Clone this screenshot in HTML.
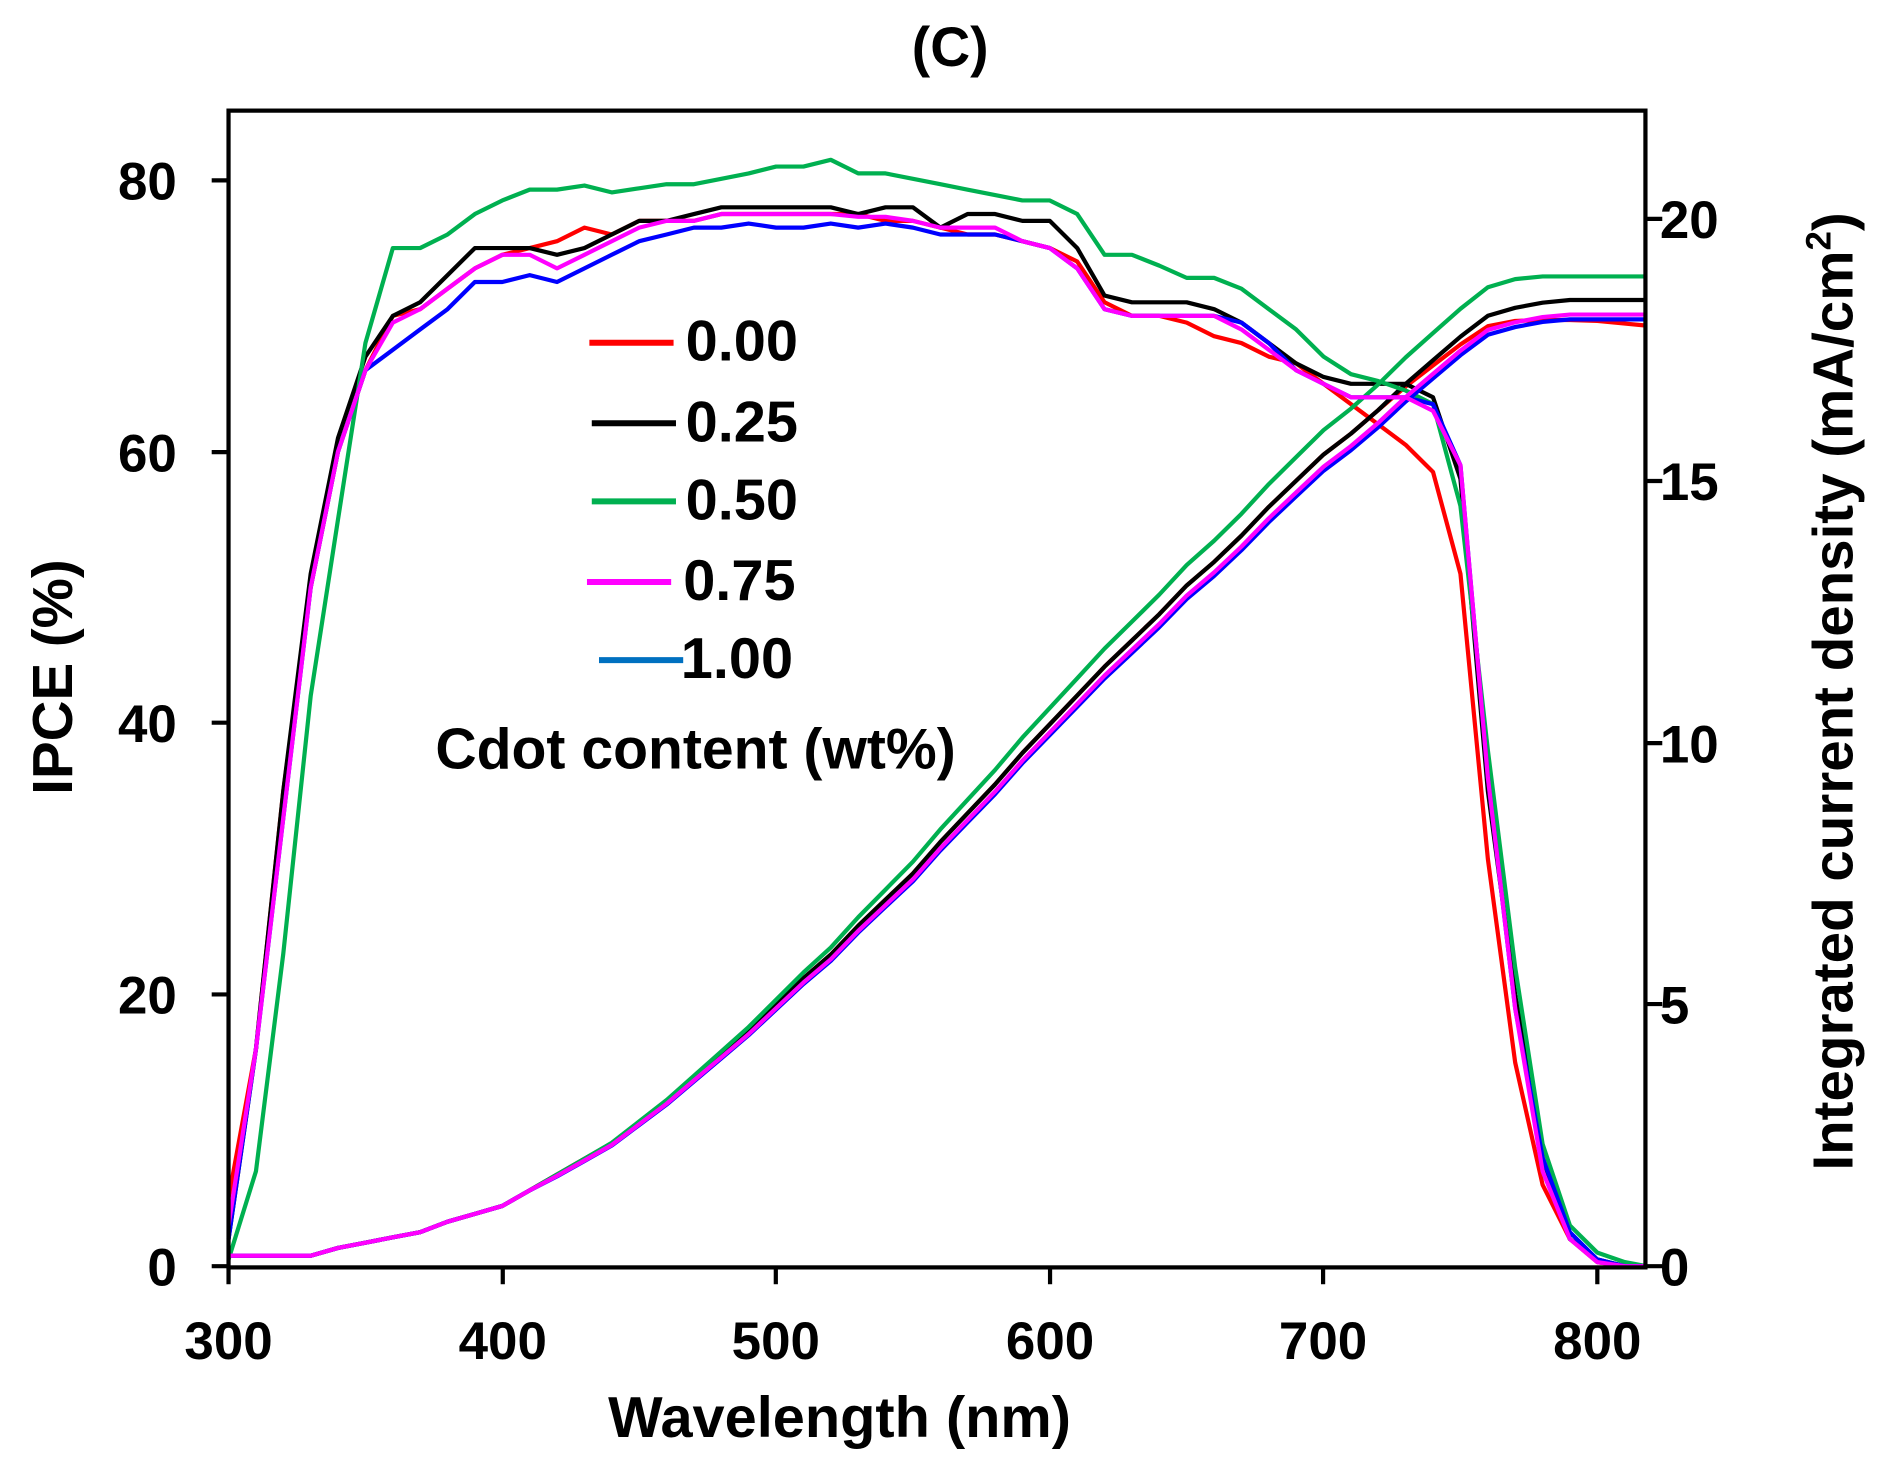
<!DOCTYPE html>
<html><head><meta charset="utf-8"><style>
html,body{margin:0;padding:0;background:#fff;}
svg{display:block;}
text{font-family:"Liberation Sans",Arial,sans-serif;font-weight:bold;fill:#000;}
</style></head><body>
<svg id="s" width="1886" height="1461" viewBox="0 0 1568 1215" preserveAspectRatio="none" xmlns="http://www.w3.org/2000/svg">
<rect width="1568" height="1215" fill="#fff"/>
<text x="790" y="55" font-size="46" text-anchor="middle">(C)</text>
<g id="curves" fill="none" stroke-width="3.5" stroke-linejoin="round"></g>
<rect x="190" y="92" width="1178" height="962" fill="none" stroke="#000" stroke-width="3.5"/>
<g stroke="#000" stroke-width="3.5">
<line x1="176" y1="1053" x2="190" y2="1053"/><line x1="176" y1="827" x2="190" y2="827"/><line x1="176" y1="601" x2="190" y2="601"/><line x1="176" y1="376" x2="190" y2="376"/><line x1="176" y1="150" x2="190" y2="150"/>
<line x1="1368" y1="1053" x2="1382" y2="1053"/><line x1="1368" y1="835" x2="1382" y2="835"/><line x1="1368" y1="618" x2="1382" y2="618"/><line x1="1368" y1="400" x2="1382" y2="400"/><line x1="1368" y1="182" x2="1382" y2="182"/>
<line x1="190" y1="1054" x2="190" y2="1068"/><line x1="418" y1="1054" x2="418" y2="1068"/><line x1="645" y1="1054" x2="645" y2="1068"/><line x1="873" y1="1054" x2="873" y2="1068"/><line x1="1100" y1="1054" x2="1100" y2="1068"/><line x1="1328" y1="1054" x2="1328" y2="1068"/>
</g>
<g font-size="44" text-anchor="end">
<text x="147" y="1069">0</text><text x="147" y="843">20</text><text x="147" y="617">40</text><text x="147" y="392">60</text><text x="147" y="166">80</text>
</g>
<g font-size="44" text-anchor="start">
<text x="1380" y="1069">0</text><text x="1380" y="851">5</text><text x="1380" y="634">10</text><text x="1380" y="416">15</text><text x="1380" y="198">20</text>
</g>
<g font-size="44" text-anchor="middle">
<text x="190" y="1130">300</text><text x="418" y="1130">400</text><text x="645" y="1130">500</text><text x="873" y="1130">600</text><text x="1100" y="1130">700</text><text x="1328" y="1130">800</text>
</g>
<text x="698" y="1195" font-size="48" text-anchor="middle">Wavelength (nm)</text>
<text transform="translate(60,563) rotate(-90)" font-size="47" text-anchor="middle">IPCE (%)</text>
<text transform="translate(1540,575) rotate(-90)" font-size="47" text-anchor="middle">Integrated current density (mA/cm<tspan font-size="29" dy="-18">2</tspan><tspan dy="18">)</tspan></text>
<g stroke-width="5">
<line x1="490" y1="285" x2="560" y2="285" stroke="#ff0000"/>
<line x1="492" y1="352" x2="562" y2="352" stroke="#000"/>
<line x1="492" y1="417" x2="562" y2="417" stroke="#00b050"/>
<line x1="488" y1="484" x2="558" y2="484" stroke="#ff00ff"/>
<line x1="498" y1="549" x2="568" y2="549" stroke="#0070c0"/>
</g>
<g font-size="48">
<text x="570" y="300">0.00</text><text x="570" y="367">0.25</text><text x="570" y="432">0.50</text><text x="568" y="499">0.75</text><text x="566" y="564">1.00</text>
<text x="362" y="639" font-size="47.5">Cdot content (wt%)</text>
</g>
</svg>
<script>
function X(w){return 190+(w-300)*2.276;}
function YL(v){return 1053-v*11.29;}
function YR(v){return 1053-v*43.55;}
var W=[];for(var w=300;w<=810;w+=10)W.push(w);W.push(818);
var ip={
black:[2,16,35,51,61,67,70,71,73,75,75,75,74.5,75,76,77,77,77.5,78,78,78,78,78,77.5,78,78,76.5,77.5,77.5,77,77,75,71.5,71,71,71,70.5,69.5,68,66.5,65.5,65,65,65,64,58,35,20,8,2,0.5,0,0],
red:[5,16,35,50,60,66,70,70.5,72,73.5,74.5,75,75.5,76.5,76,77,77,77,77.5,77.5,77.5,77.5,77.5,77.5,77,77,76.5,76,76,75.5,75,74,71,70,70,69.5,68.5,68,67,66.5,65,63.5,62,60.5,58.5,51,30,15,6,2,0.3,0,0],
green:[0.5,7,23,42,55,68,75,75,76,77.5,78.5,79.3,79.3,79.6,79.1,79.4,79.7,79.7,80.1,80.5,81,81,81.5,80.5,80.5,80.1,79.7,79.3,78.9,78.5,78.5,77.5,74.5,74.5,73.7,72.8,72.8,72,70.5,69,67,65.7,65.2,64.5,63.5,56,38,22,9,3,1,0.3,0],
magenta:[3,16,33,50,60,66,69.5,70.5,72,73.5,74.5,74.5,73.5,74.5,75.5,76.5,77,77,77.5,77.5,77.5,77.5,77.5,77.3,77.3,77,76.5,76.5,76.5,75.5,75,73.5,70.5,70,70,70,70,69,67.5,66,65,64,64,64,63,59,36,19,7,2,0.3,0,0],
blue:[2,16,33,50,60,66,67.5,69,70.5,72.5,72.5,73,72.5,73.5,74.5,75.5,76,76.5,76.5,76.8,76.5,76.5,76.8,76.5,76.8,76.5,76,76,76,75.5,75,73.5,70.5,70,70,70,70,69.5,68,66,65,64,64,64,63.5,59,36,19,8,2.5,0.5,0,0]};
var jb=[0.2,0.2,0.2,0.2,0.35,0.45,0.55,0.65,0.85,1.0,1.15,1.45,1.75,2.05,2.35,2.75,3.15,3.6,4.05,4.5,5.0,5.5,5.95,6.5,7.0,7.5,8.1,8.65,9.2,9.8,10.35,10.9,11.45,11.95,12.45,13.0,13.45,13.95,14.5,15.0,15.5,15.9,16.35,16.85,17.3,17.75,18.15,18.3,18.4,18.45,18.45,18.45,18.45];
var js={
black:jb,
green:jb.map(function(v,i){var w=W[i];var k=1+0.03*Math.min(1,Math.max(0,(w-430)/120));return Math.min(v*k,18.9);}),
red:jb.map(function(v,i){var w=W[i];var r=v; if(w>=720){r=v-0.15*(w-720)/30;} return Math.min(r,18.07);}),
magenta:jb.map(function(v,i){var w=W[i];var k=w>=420?0.985:1;return Math.min(v*k,18.25);}),
blue:jb.map(function(v,i){var w=W[i];var k=w>=420?0.98:1;return Math.min(v*k,18.16);})};
var col={black:"#000",red:"#ff0000",green:"#00b050",magenta:"#ff00ff",blue:"#0000ff"};
var g=document.getElementById("curves");var ns="http://www.w3.org/2000/svg";
["red","black","green","blue","magenta"].forEach(function(k){
 var d1="",d2="";
 for(var i=0;i<W.length;i++){d1+=(i?"L":"M")+X(W[i]).toFixed(1)+","+YL(ip[k][i]).toFixed(1);
  d2+=(i?"L":"M")+X(W[i]).toFixed(1)+","+YR(js[k][i]).toFixed(1);}
 [d1,d2].forEach(function(d){var p=document.createElementNS(ns,"path");p.setAttribute("d",d);p.setAttribute("stroke",col[k]);g.appendChild(p);});
});
</script>
</body></html>
